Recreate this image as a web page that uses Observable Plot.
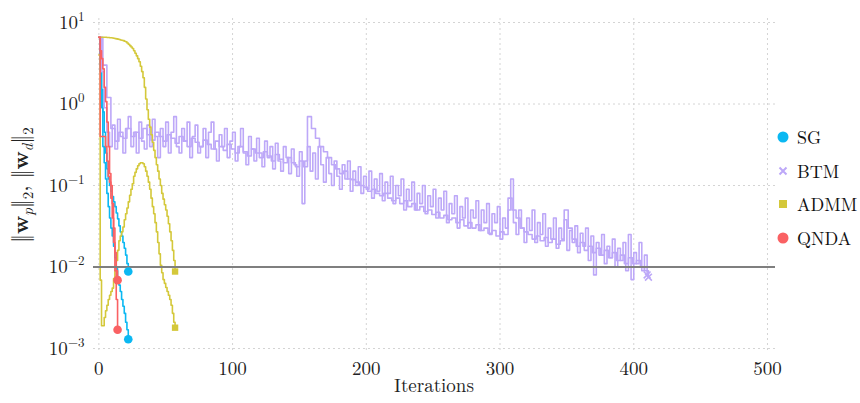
<!DOCTYPE html>
<html>
<head>
<meta charset="utf-8">
<script src="https://cdn.jsdelivr.net/npm/d3@7"></script>
<script src="https://cdn.jsdelivr.net/npm/@observablehq/plot@0.6"></script>
<style>
  html, body { margin: 0; padding: 0; background: #fff; }
  #wrap { position: relative; width: 860px; height: 403px; }
  .leg { position: absolute; left: 776px; height: 22px; line-height: 22px; font-size: 18px; color: #111; display: flex; align-items: center; }
  .leg svg { margin-right: 7px; }
</style>
</head>
<body>
<div id="wrap"></div>
<script>
// ---- data ----
const seriesNames = ["SG", "BTM", "ADMM", "QNDA"];
const seriesColors = ["#0bb8f2", "#bda8f8", "#d4c83a", "#fa6163"];
const xTicks = [0, 100, 200, 300, 400, 500];
const yTicks = [1e-3, 1e-2, 1e-1, 1, 10];
const threshold = [0.01];

// SG (one value per iteration, starting at 0)
const sgPrimal = [6.6, 2.5, 0.9, 0.3, 0.19, 0.12, 0.08, 0.055, 0.04, 0.03, 0.024, 0.018, 0.013, 0.0095, 0.0075, 0.006, 0.005, 0.004, 0.0033, 0.0027, 0.0021, 0.0017, 0.0013];
const sgDual = [6.6, 3.0, 1.5, 0.8, 0.45, 0.25, 0.16, 0.12, 0.1, 0.085, 0.073, 0.063, 0.055, 0.046, 0.039, 0.032, 0.027, 0.024, 0.02, 0.017, 0.014, 0.011, 0.0088];

// QNDA (one value per iteration)
const qndaPrimal = [6.6, 4.5, 3.6, 2.7, 1.6, 1.07, 0.6, 0.3, 0.14, 0.1, 0.06, 0.03, 0.015, 0.009, 0.0069];
const qndaDual = [6.6, 0.4, 0.4, 0.4, 0.4, 0.3, 0.2, 0.13, 0.11, 0.07, 0.04, 0.02, 0.009, 0.004, 0.0017];

// ADMM (one value per iteration)
const admmPrimal = [6.6, 6.6, 6.6, 6.6, 6.6, 6.6, 6.55, 6.55, 6.5, 6.5,
  6.45, 6.4, 6.35, 6.3, 6.25, 6.2, 6.1, 6.05, 6.0, 5.9,
  5.8, 5.6, 5.4, 5.2, 5.0, 4.8, 4.5, 4.2, 3.9, 3.6,
  3.3, 2.9, 2.5, 2.1, 1.6, 1.15, 0.85, 0.65, 0.52, 0.42,
  0.34, 0.27, 0.22, 0.18, 0.15, 0.12, 0.1, 0.08, 0.068, 0.058,
  0.05, 0.042, 0.034, 0.027, 0.021, 0.016, 0.012, 0.0088];
const admmDual = [4.0, 0.0069, 0.0019, 0.0019, 0.0024, 0.0029, 0.0034, 0.004, 0.0045, 0.005,
  0.0055, 0.0072, 0.009, 0.012, 0.016, 0.021, 0.024, 0.027, 0.031, 0.038,
  0.045, 0.053, 0.063, 0.076, 0.09, 0.105, 0.13, 0.145, 0.16, 0.175,
  0.185, 0.19, 0.19, 0.185, 0.17, 0.15, 0.13, 0.11, 0.09, 0.07,
  0.055, 0.045, 0.035, 0.027, 0.02, 0.0145, 0.0105, 0.0085, 0.007, 0.0063,
  0.0056, 0.005, 0.0045, 0.004, 0.0034, 0.0027, 0.0021, 0.0018];

// BTM primal (one value every 3 iterations)
const btmPrimalStep = 3;
const btmPrimal = [
  6.6, 3.0, 1.2, 0.5, 0.35, 0.45, 0.38, 0.5, 0.4, 0.45,
  0.38, 0.5, 0.42, 0.36, 0.45, 0.4, 0.35, 0.42, 0.38, 0.33,
  0.4, 0.35, 0.3, 0.38, 0.34, 0.3, 0.36, 0.32, 0.28, 0.35,
  0.3, 0.27, 0.32, 0.28, 0.25, 0.3, 0.26, 0.23, 0.28, 0.25,
  0.22, 0.26, 0.23, 0.2, 0.24, 0.21, 0.19, 0.22, 0.19, 0.17,
  0.2, 0.17, 0.7, 0.5, 0.38, 0.3, 0.26, 0.22, 0.18, 0.16,
  0.14, 0.15, 0.12, 0.118, 0.11, 0.1, 0.095, 0.085, 0.09, 0.08,
  0.075, 0.08, 0.07, 0.065, 0.07, 0.06, 0.065, 0.055, 0.06, 0.05,
  0.055, 0.048, 0.05, 0.044, 0.047, 0.04, 0.043, 0.038, 0.04, 0.035,
  0.038, 0.032, 0.035, 0.03, 0.033, 0.028, 0.03, 0.026, 0.028, 0.024,
  0.027, 0.025, 0.07, 0.05, 0.04, 0.03, 0.027, 0.025, 0.022, 0.024,
  0.021, 0.023, 0.02, 0.022, 0.019, 0.021, 0.05, 0.03, 0.022, 0.018,
  0.02, 0.016, 0.018, 0.015, 0.017, 0.014, 0.016, 0.013, 0.015, 0.012,
  0.014, 0.011, 0.013, 0.011, 0.012, 0.01, 0.009, 0.0075];
// BTM dual (one value every 2 iterations)
const btmDualStep = 2;
const btmDual = [
  6.6, 2.5, 0.9, 0.45, 0.3, 0.55, 0.28, 0.65, 0.4, 0.25,
  0.5, 0.7, 0.3, 0.45, 0.25, 0.6, 0.35, 0.28, 0.55, 0.3,
  0.65, 0.4, 0.22, 0.5, 0.3, 0.6, 0.25, 0.45, 0.7, 0.3,
  0.25, 0.5, 0.35, 0.6, 0.22, 0.4, 0.55, 0.25, 0.3, 0.5,
  0.22, 0.45, 0.6, 0.28, 0.2, 0.42, 0.3, 0.5, 0.22, 0.35,
  0.45, 0.2, 0.3, 0.5, 0.25, 0.18, 0.4, 0.28, 0.2, 0.38,
  0.25, 0.17, 0.35, 0.22, 0.3, 0.16, 0.33, 0.2, 0.15, 0.3,
  0.22, 0.14, 0.28, 0.18, 0.13, 0.26, 0.06, 0.2, 0.3, 0.15,
  0.25, 0.12, 0.3, 0.18, 0.11, 0.22, 0.14, 0.1, 0.2, 0.13,
  0.09, 0.18, 0.12, 0.2, 0.085, 0.15, 0.1, 0.17, 0.08, 0.13,
  0.09, 0.15, 0.07, 0.12, 0.085, 0.14, 0.065, 0.11, 0.08, 0.13,
  0.06, 0.1, 0.075, 0.12, 0.05, 0.09, 0.065, 0.11, 0.05, 0.08,
  0.06, 0.1, 0.045, 0.075, 0.055, 0.09, 0.04, 0.07, 0.05, 0.085,
  0.035, 0.06, 0.045, 0.075, 0.03, 0.055, 0.04, 0.07, 0.03, 0.05,
  0.04, 0.065, 0.028, 0.05, 0.035, 0.06, 0.025, 0.045, 0.035, 0.055,
  0.022, 0.04, 0.03, 0.05, 0.12, 0.035, 0.025, 0.05, 0.03, 0.02,
  0.04, 0.028, 0.05, 0.02, 0.035, 0.025, 0.045, 0.018, 0.03, 0.022,
  0.04, 0.017, 0.03, 0.022, 0.038, 0.016, 0.028, 0.02, 0.032, 0.015,
  0.026, 0.018, 0.03, 0.012, 0.024, 0.008, 0.02, 0.014, 0.025, 0.011,
  0.018, 0.013, 0.022, 0.01, 0.017, 0.012, 0.02, 0.009, 0.025, 0.007,
  0.015, 0.011, 0.02, 0.009, 0.014, 0.008];

// ---- pick an installed serif font ----
function pickFont(cands) {
  const ctx = document.createElement("canvas").getContext("2d");
  const s = "Iterations QNDA ADMM 0123456789 wpd";
  ctx.font = "40px monospace"; const wm = ctx.measureText(s).width;
  for (const f of cands) {
    ctx.font = `40px "${f}", monospace`;
    const w = ctx.measureText(s).width;
    if (Math.abs(w - wm) > 0.5) return f;
  }
  return "serif";
}
const serifName = pickFont(["Latin Modern Roman", "CMU Serif", "Liberation Serif", "Times New Roman", "Tinos", "DejaVu Serif", "Noto Serif"]);
const fontFam = `"${serifName}", serif`;
document.getElementById("wrap").style.fontFamily = fontFam;

// ---- build table ----
const lines = [
  {series: "SG", key: "SG-p", vals: sgPrimal, step: 1},
  {series: "SG", key: "SG-d", vals: sgDual, step: 1},
  {series: "BTM", key: "BTM-p", vals: btmPrimal, step: btmPrimalStep},
  {series: "BTM", key: "BTM-d", vals: btmDual, step: btmDualStep},
  {series: "ADMM", key: "ADMM-p", vals: admmPrimal, step: 1},
  {series: "ADMM", key: "ADMM-d", vals: admmDual, step: 1},
  {series: "QNDA", key: "QNDA-p", vals: qndaPrimal, step: 1},
  {series: "QNDA", key: "QNDA-d", vals: qndaDual, step: 1}
];
const rows = [];
const ends = [];
for (const l of lines) {
  l.vals.forEach((v, i) => rows.push({series: l.series, key: l.key, iter: i * l.step, value: v}));
  const n = l.vals.length - 1;
  ends.push({series: l.series, iter: n * l.step, value: l.vals[n]});
}

const chart = Plot.plot({
  width: 860,
  height: 403,
  marginLeft: 93,
  marginRight: 85,
  marginTop: 18,
  marginBottom: 51,
  style: {fontFamily: fontFam, fontSize: "19px", background: "white", color: "#222"},
  x: {domain: [-4, 506], ticks: xTicks, tickSize: 0, tickPadding: 9, label: null, tickFormat: d => String(d)},
  y: {type: "log", domain: [0.000893, 11.2], ticks: yTicks, tickSize: 0, tickPadding: 9, label: null,
      tickFormat: d => "10^" + Math.round(Math.log10(d))},
  color: {domain: seriesNames, range: seriesColors},
  marks: [
    Plot.ruleX(xTicks, {stroke: "#d4d4d4", strokeDasharray: "2,3", strokeWidth: 1}),
    Plot.ruleY(yTicks, {stroke: "#d4d4d4", strokeDasharray: "2,3", strokeWidth: 1}),
    Plot.line(rows, {x: "iter", y: "value", z: "key", stroke: "series", curve: "step-after", strokeWidth: 1.6}),
    Plot.ruleY(threshold, {stroke: "#7f7f7f", strokeWidth: 2}),
    Plot.dot(ends.filter(d => d.series === "SG" || d.series === "QNDA"), {x: "iter", y: "value", fill: "series", r: 4.3}),
    Plot.dot(ends.filter(d => d.series === "ADMM"), {x: "iter", y: "value", fill: "series", symbol: "square", r: 3.6}),
    Plot.dot(ends.filter(d => d.series === "BTM"), {x: "iter", y: "value", stroke: "series", symbol: "times", r: 3.2, strokeWidth: 1.6})
  ]
});

// superscript exponents for y tick labels
d3.select(chart).selectAll("text").each(function() {
  const t = this.textContent;
  const m = /^10\^(-?\d+)$/.exec(t);
  if (m) {
    const sel = d3.select(this);
    sel.text(null);
    sel.append("tspan").text("10");
    sel.append("tspan").attr("dy", "-8").attr("font-size", "13px").text(m[1].replace("-", "\u2212"));
  }
});

const wrap = document.getElementById("wrap");
wrap.appendChild(chart);

// axis titles
const svg = d3.select(chart);
svg.append("text")
  .attr("x", 434).attr("y", 392)
  .attr("text-anchor", "middle")
  .attr("font-family", fontFam).attr("font-size", "19px").attr("fill", "#222")
  .text("Iterations");

const yl = svg.append("text")
  .attr("transform", "translate(28,185) rotate(-90)")
  .attr("text-anchor", "middle")
  .attr("font-family", fontFam).attr("font-size", "22px").attr("fill", "#222");
const parts = [
  ["‖", null], ["w", "b"], ["p", "sub"], ["‖", "up"], ["2", "sub"], [", ", "up"],
  ["‖", null], ["w", "b"], ["d", "sub"], ["‖", "up"], ["2", "sub"]
];
for (const [s, k] of parts) {
  const ts = yl.append("tspan").text(s);
  if (k === "b") ts.attr("font-weight", "bold");
  if (k === "sub") {
    ts.attr("dy", "5").attr("font-size", "15px");
    if (s === "p" || s === "d") ts.attr("font-style", "italic");
  }
  if (k === "up") ts.attr("dy", "-5");
}

// legend
const legendY = [137, 170.5, 204, 237.5];
seriesNames.forEach((name, i) => {
  const div = document.createElement("div");
  div.className = "leg";
  div.style.top = (legendY[i] - 11) + "px";
  div.style.fontFamily = fontFam;
  const c = seriesColors[i];
  let icon;
  if (name === "BTM") icon = `<svg width="14" height="14"><path d="M3.5,3.5L10.5,10.5M10.5,3.5L3.5,10.5" stroke="${c}" stroke-width="2"/></svg>`;
  else if (name === "ADMM") icon = `<svg width="14" height="14"><rect x="3" y="3" width="8" height="8" fill="${c}"/></svg>`;
  else icon = `<svg width="14" height="14"><circle cx="7" cy="7" r="5.5" fill="${c}"/></svg>`;
  div.innerHTML = icon + `<span>${name}</span>`;
  wrap.appendChild(div);
});
</script>
</body>
</html>
